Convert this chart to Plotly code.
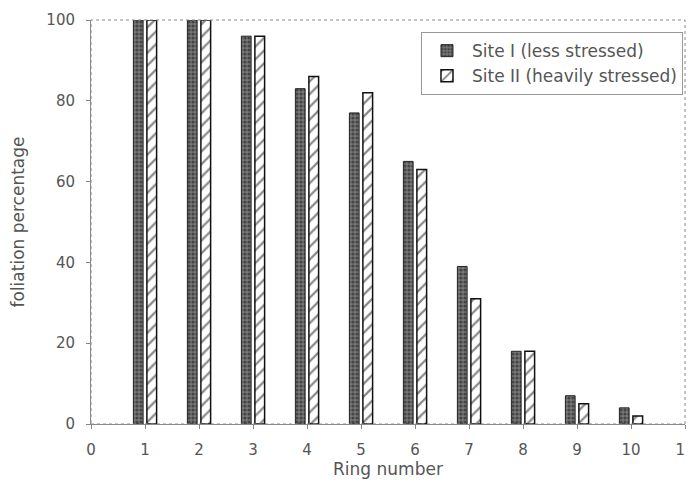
import plotly.graph_objects as go

rings = [1, 2, 3, 4, 5, 6, 7, 8, 9, 10]
site1 = [100, 100, 96, 83, 77, 65, 39, 18, 7, 4]
site2 = [100, 100, 96, 86, 82, 63, 31, 18, 5, 2]
xticks = list(range(0, 12))
yticks = [0, 20, 40, 60, 80, 100]

fig = go.Figure()
fig.add_trace(go.Bar(
    x=rings, y=site1, name="Site I (less stressed)",
    marker=dict(color="#4a4a4a", line=dict(color="#222", width=1),
                pattern=dict(shape=".", fgcolor="#111", bgcolor="#777", size=4, solidity=0.5)),
))
fig.add_trace(go.Bar(
    x=rings, y=site2, name="Site II (heavily stressed)",
    marker=dict(color="white", line=dict(color="#111", width=1.5),
                pattern=dict(shape="/", fgcolor="#111", bgcolor="white", size=9, solidity=0.25)),
))

font_color = "#555"
fam = "DejaVu Sans, Liberation Sans, sans-serif"
# body has an 8px default margin in the page, so the figure is offset by 8px
fig.update_layout(
    width=686, height=485,
    margin=dict(l=83, r=9, t=12, b=69, autoexpand=False),
    paper_bgcolor="white", plot_bgcolor="white",
    barmode="group", bargap=0.5, bargroupgap=0.28,
    font=dict(family=fam, size=15, color=font_color),
    showlegend=True,
    legend=dict(x=0.9966, y=0.97, xanchor="right", yanchor="top",
                bgcolor="white", bordercolor="#999", borderwidth=1,
                font=dict(size=17, color=font_color, family=fam), tracegroupgap=0, itemwidth=40),
    xaxis=dict(range=[0, 11], tickvals=xticks, ticktext=[str(v) for v in xticks],
               showgrid=False, zeroline=False, showline=True, linecolor="#888",
               ticks="outside", ticklen=4, tickcolor="#888", automargin=False,
               ticklabelstandoff=8, ticklabeloverflow="allow", tickfont=dict(size=15, family=fam),
               title=dict(text="Ring number", font=dict(size=17, color=font_color, family=fam), standoff=4)),
    yaxis=dict(range=[0, 100], tickvals=yticks, showgrid=False, zeroline=False,
               showline=True, linecolor="#888", ticks="outside", ticklen=4, tickcolor="#888",
               automargin=False, ticklabelstandoff=8, tickfont=dict(size=15, family=fam),
               title=dict(text="foliation percentage", font=dict(size=17, color=font_color, family=fam), standoff=28)),
)
fig.add_shape(type="rect", xref="paper", yref="paper", x0=0, y0=0, x1=1, y1=1,
              line=dict(color="#888", width=1, dash="dot"), layer="above")
fig.write_html("out.html")
